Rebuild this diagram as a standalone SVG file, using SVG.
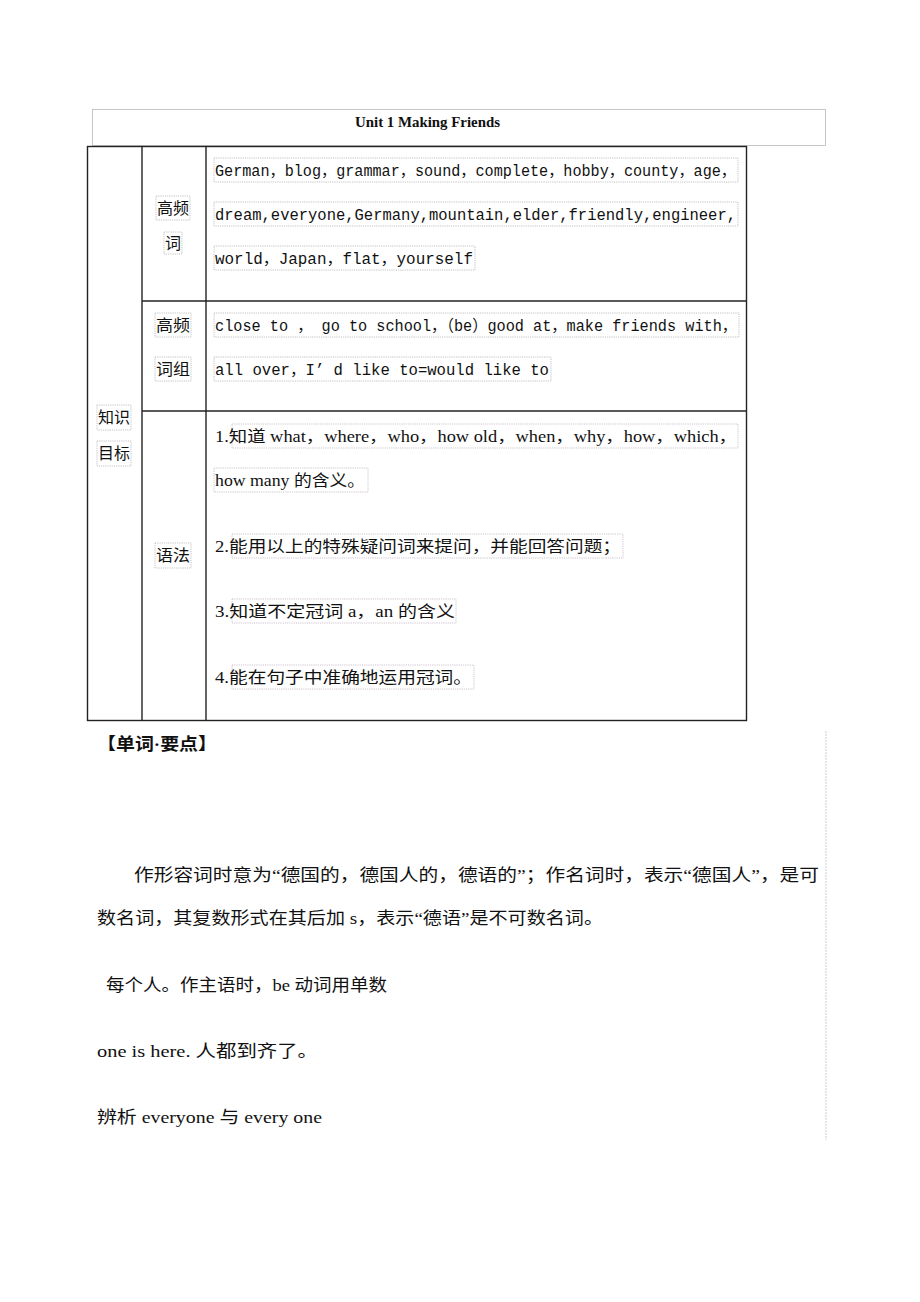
<svg xmlns="http://www.w3.org/2000/svg" width="920" height="1302" viewBox="0 0 920 1302">
<style>
.bx{fill:none;stroke:#b4b4b4;stroke-width:0.8;stroke-dasharray:1.2,1}
.pk{fill:none;stroke:#c4b4c4;stroke-width:0.8;stroke-dasharray:1.2,1}
.tl{stroke:#222;stroke-width:1.4;fill:none}
.mono{font-family:"Liberation Mono","Noto Sans CJK SC",monospace;font-size:16px;fill:#111}
.cn{font-family:"Liberation Serif","Noto Sans CJK SC",serif;font-size:16px;fill:#111}
.body{font-family:"Liberation Serif","Noto Sans CJK SC",serif;font-size:17px;fill:#111}
</style>
<rect width="920" height="1302" fill="#fff"/>
<g id="title">
<rect x="92.5" y="109.5" width="733" height="36" fill="none" stroke="#b8b8b8" stroke-width="0.8"/>
<text x="355" y="127" font-family="Liberation Serif,serif" font-weight="bold" font-size="14" textLength="145" lengthAdjust="spacingAndGlyphs" fill="#111">Unit 1 Making Friends</text>
</g>
<g id="table">
<rect x="87.5" y="146.5" width="659" height="574" class="tl"/>
<line x1="142" y1="146" x2="142" y2="720" class="tl"/>
<line x1="206" y1="146" x2="206" y2="720" class="tl"/>
<line x1="142" y1="301" x2="746" y2="301" class="tl"/>
<line x1="142" y1="411" x2="746" y2="411" class="tl"/>
</g>
<g id="row-words">
<rect x="156" y="196" width="34" height="24" class="bx"/>
<text x="157" y="214" class="cn" textLength="32" lengthAdjust="spacingAndGlyphs">高频</text>
<rect x="164" y="232" width="18" height="22" class="bx"/>
<text x="165" y="249" class="cn">词</text>
<rect x="214" y="158" width="524" height="24" class="bx"/>
<text x="215" y="176" class="mono" textLength="521" lengthAdjust="spacingAndGlyphs">German，blog，grammar，sound，complete，hobby，county，age，</text>
<rect x="214" y="202" width="524" height="24" class="bx"/>
<text x="215" y="220" class="mono" textLength="521" lengthAdjust="spacingAndGlyphs">dream,everyone,Germany,mountain,elder,friendly,engineer,</text>
<rect x="214" y="246" width="261" height="24" class="bx"/>
<text x="215" y="264" class="mono" textLength="258" lengthAdjust="spacingAndGlyphs">world，Japan，flat，yourself</text>
</g>
<g id="row-phrases">
<rect x="155" y="313" width="36" height="24" class="bx"/>
<text x="156" y="331" class="cn" textLength="34" lengthAdjust="spacingAndGlyphs">高频</text>
<rect x="155" y="357" width="36" height="24" class="bx"/>
<text x="156" y="375" class="cn" textLength="34" lengthAdjust="spacingAndGlyphs">词组</text>
<rect x="214" y="313" width="525" height="24" class="bx"/>
<text x="215" y="331" class="mono" textLength="522" lengthAdjust="spacingAndGlyphs">close to ， go to school，（be）good at，make friends with，</text>
<rect x="214" y="357" width="337" height="24" class="bx"/>
<text x="215" y="375" class="mono" textLength="334" lengthAdjust="spacingAndGlyphs">all over，I’ d like to=would like to</text>
</g>
<g id="row-grammar">
<rect x="97" y="405" width="34" height="25" class="bx"/>
<text x="98" y="423" class="cn" textLength="32" lengthAdjust="spacingAndGlyphs">知识</text>
<rect x="97" y="441" width="34" height="25" class="bx"/>
<text x="98" y="459" class="cn" textLength="32" lengthAdjust="spacingAndGlyphs">目标</text>
<rect x="155" y="543" width="36" height="25" class="bx"/>
<text x="156" y="561" class="cn" textLength="34" lengthAdjust="spacingAndGlyphs">语法</text>
<rect x="232" y="424" width="506" height="24" class="pk"/>
<text x="215" y="442" class="cn" textLength="522" lengthAdjust="spacingAndGlyphs">1.知道 what，where，who，how old，when，why，how，which，</text>
<rect x="214" y="468" width="154" height="24" class="pk"/>
<text x="215" y="486" class="cn" textLength="150" lengthAdjust="spacingAndGlyphs">how many 的含义。</text>
<rect x="232" y="534" width="391" height="24" class="pk"/>
<text x="215" y="552" class="cn" textLength="406" lengthAdjust="spacingAndGlyphs">2.能用以上的特殊疑问词来提问，并能回答问题；</text>
<rect x="232" y="599" width="224" height="24" class="pk"/>
<text x="215" y="617" class="cn" textLength="240" lengthAdjust="spacingAndGlyphs">3.知道不定冠词 a，an 的含义</text>
<rect x="232" y="665" width="242" height="24" class="pk"/>
<text x="215" y="683" class="cn" textLength="257" lengthAdjust="spacingAndGlyphs">4.能在句子中准确地运用冠词。</text>
</g>
<g id="notes">
<line x1="826" y1="731" x2="826" y2="1140" stroke="#c0c0c0" stroke-width="0.8" stroke-dasharray="2,1"/>
<text x="97" y="750" class="body" font-weight="bold" textLength="120" lengthAdjust="spacingAndGlyphs">【单词·要点】</text>
<text x="134" y="881" class="body" textLength="685" lengthAdjust="spacingAndGlyphs">作形容词时意为“德国的，德国人的，德语的”；作名词时，表示“德国人”，是可</text>
<text x="97" y="924" class="body" textLength="506" lengthAdjust="spacingAndGlyphs">数名词，其复数形式在其后加 s，表示“德语”是不可数名词。</text>
<text x="106" y="991" class="body" textLength="281" lengthAdjust="spacingAndGlyphs">每个人。作主语时，be 动词用单数</text>
<text x="97" y="1057" class="body" textLength="221" lengthAdjust="spacingAndGlyphs">one is here. 人都到齐了。</text>
<text x="97" y="1123" class="body" textLength="225" lengthAdjust="spacingAndGlyphs">辨析 everyone 与 every one</text>
</g>
</svg>
